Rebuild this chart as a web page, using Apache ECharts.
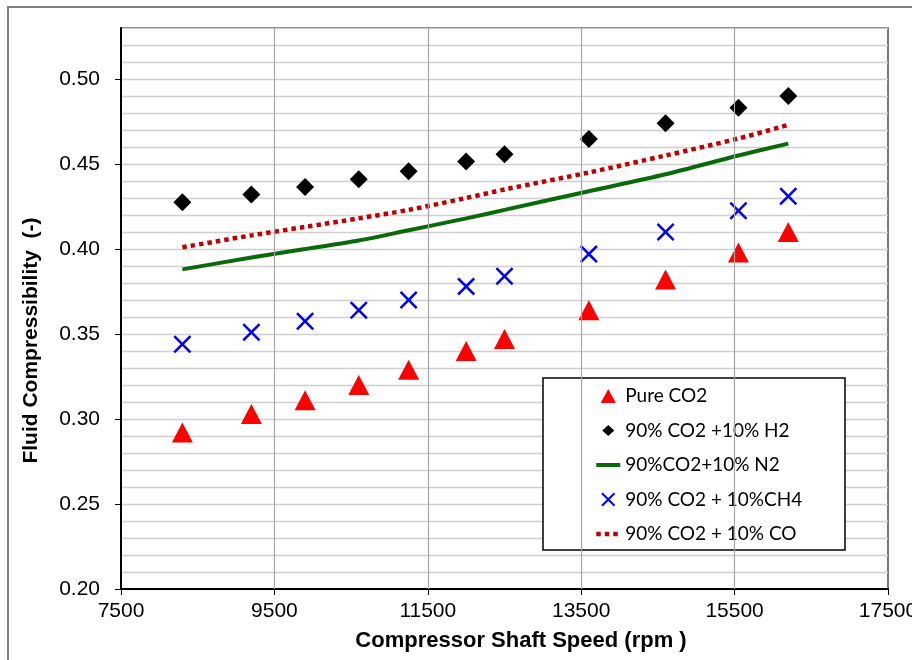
<!DOCTYPE html>
<html>
<head>
<meta charset="utf-8">
<title>Fluid Compressibility vs Compressor Shaft Speed</title>
<script src="https://cdn.jsdelivr.net/npm/echarts@6/dist/echarts.min.js"></script>
<style>
  html, body { margin: 0; padding: 0; background: #ffffff; }
  #chart { width: 912px; height: 660px; }
</style>
</head>
<body>
<div id="chart"></div>
<script>
// Shaft speeds (rpm) at which each mixture was evaluated
const speedRpm = [8300, 9200, 9900, 10600, 11250, 12000, 12500, 13600, 14600, 15550, 16200];

// Fluid compressibility (-) per mixture
const pureCO2 = [0.292, 0.303, 0.311, 0.320, 0.329, 0.340, 0.347, 0.364, 0.382, 0.398, 0.410];
const co2H2   = [0.4275, 0.432, 0.4365, 0.441, 0.4457, 0.4514, 0.4557, 0.4647, 0.4739, 0.4831, 0.490];
const co2N2   = [0.388, 0.395, 0.400, 0.405, 0.411, 0.418, 0.423, 0.434, 0.444, 0.455, 0.462];
const co2CH4  = [0.344, 0.351, 0.3575, 0.364, 0.370, 0.378, 0.384, 0.397, 0.410, 0.4225, 0.431];
const co2CO   = [0.401, 0.408, 0.413, 0.418, 0.423, 0.430, 0.435, 0.445, 0.455, 0.465, 0.473];

// Axis tick labels
const xTicks = [7500, 9500, 11500, 13500, 15500, 17500];
const yTicks = [0.20, 0.25, 0.30, 0.35, 0.40, 0.45, 0.50];

const seriesNames = [
  'Pure CO2',
  '90% CO2 +10% H2',
  '90%CO2+10% N2',
  '90% CO2 + 10%CH4',
  '90% CO2 + 10% CO'
];

const pairs = (ys) => speedRpm.map((x, i) => [x, ys[i]]);

// Thick "x" marker outline
const crossPath = 'path://M0,10L10,0L50,40L90,0L100,10L60,50L100,90L90,100L50,60L10,100L0,90L40,50Z';
// Smaller legend glyphs, drawn inside a 22x14 legend cell
const legendTriangle = 'path://M0,0M22,14M11,0L18.5,14L3.5,14Z';
const legendDiamond = 'path://M0,0M22,14M11,1.5L17,7L11,12.5L5,7Z';

const n2Color = '#0a6a0a';
const coColor = '#c00000';

const chart = echarts.init(document.getElementById('chart'), null, { renderer: 'canvas' });

chart.setOption({
  backgroundColor: '#ffffff',
  animation: false,
  grid: {
    left: 121, right: 24, top: 28, bottom: 71,
    outerBoundsMode: 'none',
    containLabel: false,
    show: true,
    borderColor: '#4d4d4d',
    borderWidth: 1.5,
    backgroundColor: 'transparent'
  },
  graphic: [
    {
      type: 'rect', z: 0, silent: true,
      shape: { x: 8, y: 7, width: 930, height: 680 },
      style: { fill: 'none', stroke: '#7f7f7f', lineWidth: 2 }
    },
    {
      type: 'rect', z: 3, silent: true,
      shape: { x: 543, y: 378, width: 302, height: 172 },
      style: { fill: '#ffffff', stroke: '#000000', lineWidth: 1.5 }
    }
  ],
  legend: {
    orient: 'vertical',
    left: 589,
    top: 381,
    padding: 5,
    z: 4,
    itemWidth: 24,
    itemHeight: 14,
    itemGap: 14.5,
    data: [
      { name: seriesNames[0], icon: legendTriangle },
      { name: seriesNames[1], icon: legendDiamond },
      { name: seriesNames[2], itemStyle: { opacity: 0 }, lineStyle: { width: 4, color: n2Color } },
      { name: seriesNames[3], icon: crossPath },
      { name: seriesNames[4], itemStyle: { opacity: 0 }, lineStyle: { width: 4.5, color: coColor, type: [4.5, 4] } }
    ],
    textStyle: {
      fontFamily: 'Lato',
      fontSize: 19,
      lineHeight: 20,
      color: '#000000'
    }
  },
  xAxis: {
    type: 'value',
    min: 7500,
    max: 17500,
    name: 'Compressor Shaft Speed (rpm )',
    nameLocation: 'middle',
    nameGap: 41,
    nameTextStyle: {
      fontFamily: 'Liberation Sans',
      fontWeight: 'bold',
      fontSize: 22,
      color: '#000000',
      padding: [0, 0, 0, 33]
    },
    axisLine: { show: true, onZero: false, lineStyle: { color: '#000000', width: 2 } },
    axisTick: { show: true, customValues: xTicks, length: 6, lineStyle: { color: '#000000', width: 1 } },
    axisLabel: {
      customValues: xTicks,
      fontFamily: 'Liberation Sans',
      fontSize: 21,
      color: '#000000',
      margin: 12,
      formatter: (v) => String(v)
    },
    splitLine: { show: false }
  },
  yAxis: [
    {
      type: 'value',
      min: 0.20,
      max: 0.53,
      interval: 0.01,
      name: 'Fluid Compressibility  (-)',
      nameLocation: 'middle',
      nameGap: 79,
      nameTextStyle: {
        fontFamily: 'Liberation Sans',
        fontWeight: 'bold',
        fontSize: 21,
        color: '#000000',
        padding: [0, 64, 0, 0]
      },
      axisLine: { show: true, onZero: false, lineStyle: { color: '#000000', width: 2 } },
      axisTick: { show: true, customValues: yTicks, length: 6, lineStyle: { color: '#000000', width: 1 } },
      axisLabel: {
        customValues: yTicks,
        fontFamily: 'Liberation Sans',
        fontSize: 21,
        color: '#000000',
        margin: 21,
        formatter: (v) => Number(v).toFixed(2)
      },
      splitLine: { show: false }
    },
    {
      // fine horizontal gridlines every 0.01
      type: 'value',
      position: 'left',
      min: 0.20,
      max: 0.53,
      interval: 0.01,
      axisLine: { show: false },
      axisTick: { show: false },
      axisLabel: { show: false },
      splitLine: { show: true, lineStyle: { color: '#cfcfcf', width: 1.3 } }
    }
  ],
  series: [
    {
      // vertical gridlines at the labelled speeds
      name: 'grid',
      type: 'line',
      data: [],
      z: 1,
      silent: true,
      markLine: {
        silent: true,
        symbol: 'none',
        label: { show: false },
        lineStyle: { color: '#a6a6a6', width: 1.2, type: 'solid' },
        data: xTicks.slice(1, -1).map((v) => ({ xAxis: v }))
      }
    },
    {
      name: seriesNames[2],
      type: 'line',
      data: pairs(co2N2),
      symbol: 'none',
      smooth: 0.3,
      z: 2,
      lineStyle: { color: n2Color, width: 4 },
      itemStyle: { color: n2Color }
    },
    {
      name: seriesNames[4],
      type: 'line',
      data: pairs(co2CO),
      symbol: 'none',
      smooth: 0.3,
      z: 2,
      lineStyle: { color: coColor, width: 4.5, type: [4.5, 4] },
      itemStyle: { color: coColor }
    },
    {
      name: seriesNames[0],
      type: 'scatter',
      data: pairs(pureCO2),
      symbol: 'triangle',
      symbolSize: [21, 20],
      z: 3,
      itemStyle: { color: '#ff0000', opacity: 1 }
    },
    {
      name: seriesNames[1],
      type: 'scatter',
      data: pairs(co2H2),
      symbol: 'diamond',
      symbolSize: 18,
      z: 3,
      itemStyle: { color: '#000000', opacity: 1 }
    },
    {
      name: seriesNames[3],
      type: 'scatter',
      data: pairs(co2CH4),
      symbol: crossPath,
      symbolSize: 18,
      z: 3,
      itemStyle: { color: '#0000ff', opacity: 1 }
    }
  ]
});
</script>
</body>
</html>
